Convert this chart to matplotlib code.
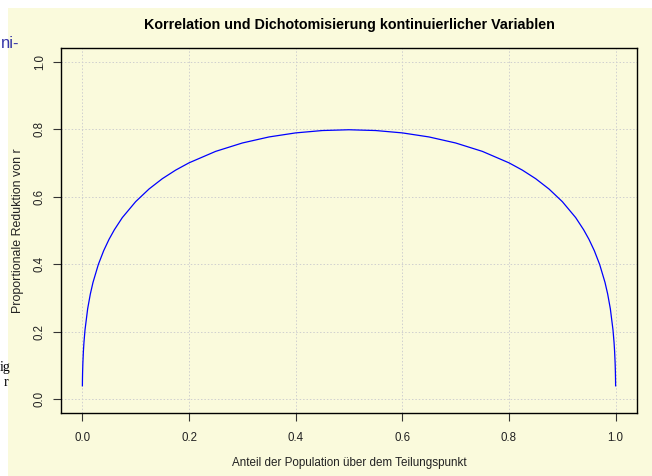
import matplotlib
matplotlib.use("Agg")
import matplotlib.pyplot as plt
from matplotlib.patches import Rectangle

# Values
anteil = [0.0001, 0.0002, 0.0003, 0.0005, 0.001, 0.002, 0.003, 0.005, 0.01, 0.015,
          0.02, 0.03, 0.04, 0.05, 0.06, 0.075, 0.1, 0.125, 0.15, 0.175, 0.2, 0.25,
          0.3, 0.35, 0.4, 0.45, 0.5,
          0.55, 0.6, 0.65, 0.7, 0.75, 0.8, 0.825, 0.85, 0.875, 0.9, 0.925, 0.94,
          0.95, 0.96, 0.97, 0.98, 0.985, 0.99, 0.995, 0.997, 0.998, 0.999, 0.9995,
          0.9997, 0.9998, 0.9999]
reduktion = [0.0396, 0.0536, 0.0639, 0.0798, 0.1065, 0.1420, 0.1673, 0.2050, 0.2679, 0.3115,
             0.3459, 0.3989, 0.4397, 0.4732, 0.5016, 0.5378, 0.5850, 0.6224, 0.6530, 0.6784,
             0.6999, 0.7339, 0.7587, 0.7766, 0.7886, 0.7956, 0.7979,
             0.7956, 0.7886, 0.7766, 0.7587, 0.7339, 0.6999, 0.6784, 0.6530, 0.6224, 0.5850,
             0.5378, 0.5016, 0.4732, 0.4397, 0.3989, 0.3459, 0.3115, 0.2679, 0.2050, 0.1673,
             0.1420, 0.1065, 0.0798, 0.0639, 0.0536, 0.0396]
ticks = [0.0, 0.2, 0.4, 0.6, 0.8, 1.0]
tick_labels = ["0.0", "0.2", "0.4", "0.6", "0.8", "1.0"]

plt.rcParams['font.family'] = ['Liberation Sans', 'DejaVu Sans']
bg = '#FAFADC'

fig = plt.figure(figsize=(6.52, 4.76), dpi=100, facecolor='white')
fig.patches.append(Rectangle((8/652, 0), 1 - 8/652, 1 - 8/476, transform=fig.transFigure,
                             facecolor=bg, edgecolor='none', zorder=-10))

ax = fig.add_axes([61/652, (476-412.7)/476, 576/652, (412.7-48)/476])
ax.set_facecolor(bg)
ax.plot(anteil, reduktion, color='#0000FF', lw=0.9)
ax.set_xlim(-0.04, 1.04)
ax.set_ylim(-0.04, 1.04)
ax.set_xticks(ticks)
ax.set_xticklabels(tick_labels)
ax.set_yticks(ticks)
ax.set_yticklabels(tick_labels, rotation=90, va='center')
ax.tick_params(direction='out', length=6, width=0.8, labelsize=8.3, color='#333333',
               labelcolor='#222222', pad=8)
ax.tick_params(axis='y', pad=5)
ax.grid(True, color='#CFCFCF', linestyle=(0, (1.5, 2)), lw=0.7)
for s in ax.spines.values():
    s.set_linewidth(1.0)
    s.set_color('black')

ax.set_title('Korrelation und Dichotomisierung kontinuierlicher Variablen',
             fontsize=10.3, fontweight='bold', pad=14)
ax.set_xlabel('Anteil der Population über dem Teilungspunkt', fontsize=8.4, labelpad=9,
              color='#222222')
ax.set_ylabel('Proportionale Reduktion von r', fontsize=8.9, labelpad=7, color='#222222')

# fragments of the surrounding slide
fig.text(0.5/652, 1 - 44/476, 'ni-', color='#3838A8', fontsize=12, ha='left', va='center')
fig.text(10/652, 1 - 368/476, 'ig', color='black', fontsize=10, ha='right', va='center',
         family='Liberation Serif')
fig.text(8/652, 1 - 383/476, 'r', color='black', fontsize=10, ha='right', va='center',
         family='Liberation Serif')

fig.savefig('out.png', dpi=100, facecolor='white')
